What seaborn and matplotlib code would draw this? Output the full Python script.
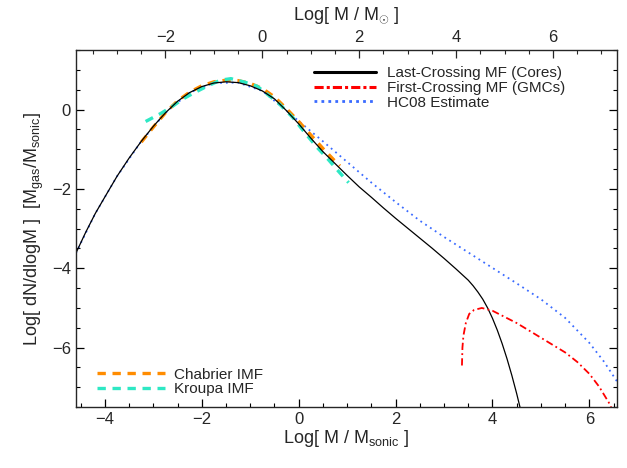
import numpy as np
import pandas as pd
import matplotlib
matplotlib.use("Agg")
import matplotlib.pyplot as plt
from matplotlib.lines import Line2D
from matplotlib.ticker import MultipleLocator
import seaborn as sns

# --- values ---
# last-crossing MF (cores), black solid
lc_x = [-4.6, -4.4, -4.2, -4.0, -3.75, -3.5, -3.25, -3.0, -2.75, -2.5, -2.25, -2.0,
        -1.75, -1.5, -1.25, -1.0, -0.75, -0.5, -0.25, 0.0, 0.25, 0.5, 0.75, 1.0,
        1.25, 1.5, 1.75, 2.0, 2.25, 2.5, 2.75, 3.0, 3.25, 3.5, 3.6, 3.7, 3.8, 3.9,
        4.0, 4.1, 4.2, 4.3, 4.4, 4.5, 4.6]
lc_y = [-3.62, -3.1, -2.62, -2.2, -1.68, -1.22, -0.8, -0.42, -0.08, 0.21, 0.43, 0.58,
        0.67, 0.70, 0.68, 0.6, 0.47, 0.27, -0.03, -0.36, -0.72, -1.06, -1.36, -1.66,
        -1.95, -2.21, -2.48, -2.74, -2.99, -3.24, -3.49, -3.75, -4.02, -4.3, -4.44,
        -4.6, -4.78, -5.0, -5.26, -5.56, -5.9, -6.28, -6.7, -7.16, -7.66]

# first-crossing MF (GMCs), red dash-dot
fc_x = [3.37, 3.38, 3.40, 3.45, 3.52, 3.62, 3.78, 4.0, 4.5, 5.0, 5.5, 5.75, 6.0,
        6.2, 6.4, 6.47]
fc_y = [-6.45, -6.0, -5.7, -5.38, -5.15, -5.05, -5.0, -5.07, -5.38, -5.75, -6.12,
        -6.36, -6.66, -6.98, -7.38, -7.56]

# HC08 estimate, blue dotted
hc_x = [-4.6, -4.2, -3.75, -3.25, -2.75, -2.25, -1.75, -1.25, -0.75, -0.25, 0.0,
        0.5, 1.0, 1.5, 2.0, 2.5, 3.0, 3.5, 4.0, 4.5, 5.0, 5.5, 6.0, 6.3, 6.57]
hc_y = [-3.62, -2.62, -1.68, -0.8, -0.08, 0.43, 0.67, 0.68, 0.47, -0.03, -0.29,
        -0.8, -1.32, -1.84, -2.33, -2.8, -3.21, -3.6, -3.99, -4.38, -4.78, -5.25,
        -5.88, -6.35, -6.85]

# Chabrier IMF, orange dashed
ch_x = [-3.25, -3.0, -2.75, -2.5, -2.25, -2.0, -1.75, -1.5, -1.25, -1.0, -0.75,
        -0.5, -0.25, 0.0, 0.25, 0.5, 0.75, 0.85]
ch_y = [-0.82, -0.44, -0.08, 0.22, 0.44, 0.6, 0.7, 0.74, 0.73, 0.66, 0.53, 0.32,
        0.02, -0.3, -0.64, -0.98, -1.3, -1.42]

# Kroupa IMF, cyan dashed
kr_x = [-3.16, -2.85, -2.61, -2.40, -2.18, -1.89, -1.62, -1.40, -1.11, -0.86,
        -0.64, -0.43, -0.12, 0.08, 0.37, 0.57, 0.84, 1.03]
kr_y = [-0.3, -0.1, 0.08, 0.26, 0.41, 0.59, 0.74, 0.78, 0.69, 0.59, 0.38, 0.18,
        -0.2, -0.51, -0.94, -1.2, -1.58, -1.84]

xlim = (-4.6, 6.57)
ylim = (-7.5, 1.5)
log_msonic = 0.75  # offset between the top (M_sun) and bottom (M_sonic) axes

sns.set_style("ticks", {"xtick.direction": "in", "ytick.direction": "in"})
plt.rcParams['font.family'] = ['Liberation Sans', 'DejaVu Sans']
plt.rcParams['mathtext.fontset'] = 'custom'
plt.rcParams['mathtext.rm'] = 'Liberation Sans'
plt.rcParams['mathtext.it'] = 'Liberation Sans:italic'

fig = plt.figure(figsize=(6.27, 4.68), dpi=100)
ax = fig.add_axes([0.121, 0.130, 0.863, 0.763])

orange = '#FF8C00'
cyan = '#2EE8C4'
blue = '#3A6BFF'

sns.lineplot(x=hc_x, y=hc_y, ax=ax, color=blue, lw=1.3, linestyle=(0, (1, 2.2)),
             estimator=None, sort=False)
sns.lineplot(x=ch_x, y=ch_y, ax=ax, color=orange, lw=2.4, linestyle=(0, (2.5, 2)),
             estimator=None, sort=False)
sns.lineplot(x=kr_x, y=kr_y, ax=ax, color=cyan, lw=2.4, linestyle=(0, (2.5, 2)),
             estimator=None, sort=False)
sns.lineplot(x=lc_x, y=lc_y, ax=ax, color='black', lw=0.9,
             estimator=None, sort=False)
sns.lineplot(x=fc_x, y=fc_y, ax=ax, color='red', lw=1.3, linestyle=(0, (4, 1.8, 1, 1.8)),
             estimator=None, sort=False)

ax.set_xlim(*xlim)
ax.set_ylim(*ylim)
ax.xaxis.set_major_locator(MultipleLocator(2))
ax.xaxis.set_minor_locator(MultipleLocator(0.5))
ax.yaxis.set_major_locator(MultipleLocator(2))
ax.yaxis.set_minor_locator(MultipleLocator(0.5))
ax.tick_params(which='both', direction='in', top=False, right=True, labelsize=12,
               color='black')
ax.tick_params(which='major', length=6, width=0.9)
ax.tick_params(which='minor', length=3, width=0.8)
for sp in ax.spines.values():
    sp.set_visible(True)
    sp.set_linewidth(0.9)
    sp.set_color('black')

ax.set_xlabel(r'Log[ M / M$_{\mathrm{sonic}}$ ]', fontsize=13, labelpad=1)
ax.set_ylabel(r'Log[ dN/dlogM ]  [M$_{\mathrm{gas}}$/M$_{\mathrm{sonic}}$]',
              fontsize=13, labelpad=4)

# top axis in solar masses
top = ax.twiny()
top.set_xlim(xlim[0] + log_msonic, xlim[1] + log_msonic)
top.xaxis.set_major_locator(MultipleLocator(2))
top.xaxis.set_minor_locator(MultipleLocator(0.5))
top.tick_params(which='both', direction='in', labelsize=12, pad=4)
top.tick_params(which='major', length=6, width=0.9)
top.tick_params(which='minor', length=3, width=0.8)
top.set_xlabel(r'Log[ M / M$_{\odot}$ ]', fontsize=13, labelpad=7)
top.grid(False)

# legends
h1 = [Line2D([], [], color='black', lw=2.2),
      Line2D([], [], color='red', lw=2.2, linestyle=(0, (3, 1, 1, 1))),
      Line2D([], [], color=blue, lw=2.0, linestyle=(0, (1, 1.5)))]
leg1 = ax.legend(h1, ['Last-Crossing MF (Cores)', 'First-Crossing MF (GMCs)', 'HC08 Estimate'],
                 loc='upper left', bbox_to_anchor=(0.42, 0.985), frameon=False, fontsize=11,
                 handlelength=4.1, handletextpad=0.7, labelspacing=0.05, borderaxespad=0.3)
ax.add_artist(leg1)
h2 = [Line2D([], [], color=orange, lw=2.4, linestyle=(0, (2.5, 2))),
      Line2D([], [], color=cyan, lw=2.4, linestyle=(0, (2.5, 2)))]
ax.legend(h2, ['Chabrier IMF', 'Kroupa IMF'], loc='lower left', bbox_to_anchor=(0.02, 0.0),
          frameon=False, fontsize=11, handlelength=4.4, handletextpad=0.6,
          labelspacing=0.05, borderaxespad=0.3)

fig.savefig('out.png', dpi=100)
